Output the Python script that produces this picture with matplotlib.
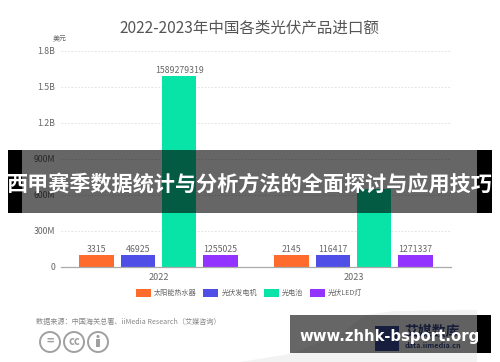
import matplotlib
matplotlib.use("Agg")
import matplotlib.pyplot as plt
from matplotlib.patches import Rectangle, Circle, Polygon

plt.rcParams['font.family'] = ['Noto Sans CJK SC', 'DejaVu Sans']

years = ["2022", "2023"]
series_names = ["太阳能热水器", "光伏发电机", "光电池", "光伏LED灯"]
colors = ["#FF6B2C", "#4F4FE8", "#08E4A8", "#9333FF"]
# drawn heights in USD, small series sit on the chart's minimum bar height
heights_2022 = [100e6, 100e6, 1589279319, 100e6]
heights_2023 = [100e6, 100e6, 650e6, 100e6]
labels_2022 = ["3315", "46925", "1589279319", "1255025"]
labels_2023 = ["2145", "116417", "", "1271337"]
yticks = [0, 300e6, 600e6, 900e6, 1.2e9, 1.5e9, 1.8e9]
ytick_labels = ["0", "300M", "600M", "900M", "1.2B", "1.5B", "1.8B"]

W, H = 500, 362
grey = "#666666"


def px_axes(zorder):
    a = fig.add_axes([0, 0, 1, 1], zorder=zorder)
    a.set_xlim(0, W)
    a.set_ylim(H, 0)
    a.axis("off")
    a.patch.set_alpha(0)
    return a


fig = plt.figure(figsize=(W / 100, H / 100), dpi=100, facecolor="white")

# background swoosh behind the chart
bg = px_axes(0)
bg.add_patch(Polygon([(477, 310), (395, 311), (365, 315), (340, 335), (290, 354), (240, 362), (477, 362)],
                     closed=True, fc="#F2F2F2", ec="none"))

# main chart
ax = fig.add_axes([61 / W, 1 - 267 / H, 390 / W, 216 / H], zorder=1)
ax.patch.set_alpha(0)
step = 0.212
bar_w = 0.175
for i, name in enumerate(series_names):
    xs = [k + (i - 1.5) * step for k in range(len(years))]
    vals = [heights_2022[i], heights_2023[i]]
    bars = ax.bar(xs, vals, bar_w, color=colors[i], label=name)
    ax.bar_label(bars, labels=[labels_2022[i], labels_2023[i]], padding=1, fontsize=6.3, color=grey)

ax.set_xlim(-0.5, 1.5)
ax.set_ylim(0, 1.8e9)
ax.set_xticks(range(len(years)))
ax.set_xticklabels(years, fontsize=6.5, color=grey)
ax.set_yticks(yticks)
ax.set_yticklabels(ytick_labels, fontsize=6.3, color=grey)
ax.tick_params(axis="both", length=0, pad=4)
ax.grid(axis="y", color="#DDDDDD", linestyle=(0, (2, 2)), linewidth=0.6)
ax.set_axisbelow(True)
for side in ["top", "right", "left"]:
    ax.spines[side].set_visible(False)
ax.spines["bottom"].set_color("#AAAAAA")
ax.spines["bottom"].set_linewidth(0.9)

ax.legend(loc="center", bbox_to_anchor=(249 / W, 1 - 293 / H), bbox_transform=fig.transFigure, ncol=4,
          frameon=False, fontsize=5.1, labelcolor=grey, handlelength=2.1, handleheight=1.5,
          handletextpad=0.42, columnspacing=0.95, borderpad=0, borderaxespad=0)

# text and licence icons in pixel coordinates
txt = px_axes(2)
txt.text(249.5, 28, "2022-2023年中国各类光伏产品进口额", ha="center", va="center", fontsize=11.2, color="#555555")
txt.text(60, 38, "美元", ha="center", va="center", fontsize=5, color=grey)
txt.text(36, 322, "数据来源：中国海关总署、iiMedia Research（艾媒咨询）", ha="left", va="center", fontsize=5.15, color="#888888")
for cx in [50, 74, 98]:
    txt.add_patch(Circle((cx, 342), 10, fc="white", ec="#A0A0A0", lw=1.4))
txt.text(50, 341.5, "=", ha="center", va="center", fontsize=9, color="#A0A0A0", fontweight="bold")
txt.text(74, 341.5, "cc", ha="center", va="center", fontsize=8, color="#A0A0A0", fontweight="bold")
txt.add_patch(Circle((98, 336.5), 1.6, fc="#A0A0A0", ec="none"))
txt.add_patch(Rectangle((96, 339), 4, 8, fc="#A0A0A0", ec="none"))
txt.text(405, 331, "艾媒数库", ha="left", va="center", fontsize=10, color="#3A4A8A", fontweight="bold")
txt.text(405, 345, "data.iimedia.cn", ha="left", va="center", fontsize=5.2, color="#3A4A8A", fontweight="bold")
txt.add_patch(Rectangle((375, 326), 24, 25, fc="#3A4A9A", ec="none"))

# banner overlays on top of everything
top = px_axes(3)
top.add_patch(Rectangle((22, 150), 455, 62.5, fc="black", alpha=0.6, ec="none"))
top.add_patch(Rectangle((8, 150), 14, 62.5, fc="black", ec="none"))
top.add_patch(Rectangle((477, 150), 15, 62.5, fc="black", ec="none"))
top.text(250, 184, "西甲赛季数据统计与分析方法的全面探讨与应用技巧", ha="center", va="center",
         fontsize=15.2, color="white", fontweight="bold")
top.add_patch(Rectangle((290, 315), 187, 38, fc="black", alpha=0.6, ec="none"))
top.add_patch(Rectangle((477, 315), 14, 38, fc="black", ec="none"))
top.text(390, 336, "www.zhhk-bsport.org", ha="center", va="center", fontsize=10.7, color="white",
         fontweight="bold", family="DejaVu Sans")

fig.savefig("out.png", dpi=100)
